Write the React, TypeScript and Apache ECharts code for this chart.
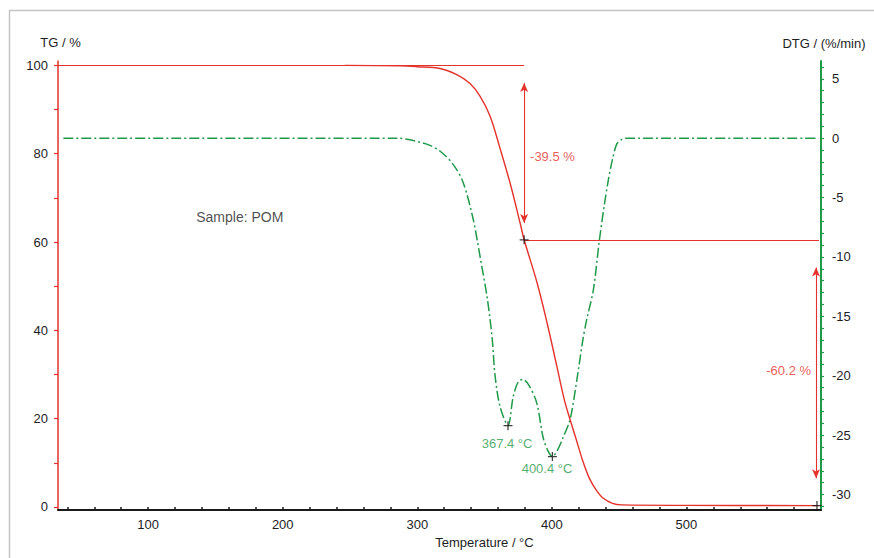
import React, { useEffect, useRef } from "react";
import * as echarts from "echarts";

// ---- data ----
const tgTemp = [246, 287, 300, 316.9, 329.3, 339.2, 346.7, 354.1, 361.5, 369, 376.4, 379.4, 388.8, 396.2, 403.6, 409, 413, 418, 423, 428, 433, 438, 445, 452, 500, 598];
const tgValues = [100, 99.9, 99.7, 99.3, 97.9, 95.9, 93.0, 88.5, 81.2, 73.3, 64.3, 60.5, 51.0, 42.0, 32.0, 24.6, 20.3, 15.4, 10.4, 6.4, 3.8, 2.0, 0.8, 0.45, 0.35, 0.3];

const dtgTemp = [37, 285, 307, 317, 326.6, 334, 341.5, 346.7, 351.9, 355.6, 357.8, 361.5, 367.4, 371.2, 375, 378.4, 383, 388.8, 393.5, 397, 400.4, 404, 408.3, 413.5, 418.5, 423, 426, 430.8, 435.3, 439, 442, 445, 448.2, 452, 455, 598];
const dtgValues = [0, 0, -0.5, -1.1, -2.2, -3.7, -6.8, -10, -13.4, -16.8, -20, -22.6, -24.2, -21.8, -20.5, -20.3, -20.8, -22.3, -25.2, -26.3, -26.8, -26.3, -25.2, -23.7, -20.4, -17.0, -15.2, -12.8, -8.6, -5.6, -3.5, -1.8, -0.5, -0.1, 0, 0];

const xLabels = [100, 200, 300, 400, 500];
const xTicks = [40, 60, 80, 100, 120, 140, 160, 180, 200, 220, 240, 260, 280, 300, 320, 340, 360, 380, 400, 420, 440, 460, 480, 500, 520, 540, 560, 580];
const tgLabels = [0, 20, 40, 60, 80, 100];
const tgTicks = [0, 10, 20, 30, 40, 50, 60, 70, 80, 90, 100];
const dtgLabels = [5, 0, -5, -10, -15, -20, -25, -30];
const dtgTicks = [6, 5, 4, 3, 2, 1, 0, -1, -2, -3, -4, -5, -6, -7, -8, -9, -10, -11, -12, -13, -14, -15, -16, -17, -18, -19, -20, -21, -22, -23, -24, -25, -26, -27, -28, -29, -30, -31];

// step evaluation (TG)
const stepTemp = 379.4;
const stepLevel = 60.5;
const endTemp = 597;
const residue = 0.3;
const tgMarkers = [[stepTemp, stepLevel], [endTemp, residue]];
const dtgPeakTemp = [367.4, 400.4];
const dtgPeakValue = [-24.2, -26.8];

const RED = "#e5322b";
const GREEN = "#1f9a48";
const TEXT = "#1e1e1e";
const FONT = "'Liberation Sans', Arial, sans-serif";

const zip = (a: number[], b: number[]) => a.map((v, i) => [v, b[i]]);
const CROSS = "path://M0,4.3H10V5.7H0ZM4.3,0H5.7V10H4.3Z";

export default function App() {
  const ref = useRef<HTMLDivElement>(null);
  useEffect(() => {
    if (!ref.current) return;
    const chart = echarts.init(ref.current, null, { renderer: "svg" });
    chart.setOption({
      animation: false,
      textStyle: { fontFamily: FONT },
      graphic: [
        {
          type: "rect",
          z: -10,
          shape: { x: 9.5, y: 10.5, width: 900, height: 600 },
          style: { fill: "none", stroke: "#c4c4c4", lineWidth: 1.5 },
        },
      ],
      grid: { left: 58, right: 53, top: 61, bottom: 48 },
      xAxis: {
        type: "value",
        min: 33,
        max: 600,
        name: "Temperature / °C",
        nameLocation: "middle",
        nameGap: 24,
        nameTextStyle: { color: TEXT, fontSize: 13, fontFamily: FONT, padding: [0, 0, 0, 90] },
        axisLine: { show: true, onZero: false, lineStyle: { color: "#1a1a1a", width: 2 } },
        axisTick: { show: true, inside: true, length: 3, customValues: xTicks, lineStyle: { color: "#1a1a1a", width: 1.5 } },
        axisLabel: { customValues: xLabels, color: TEXT, fontSize: 13, fontFamily: FONT, margin: 8 },
        splitLine: { show: false },
      },
      yAxis: [
        {
          type: "value",
          position: "left",
          min: -0.7,
          max: 101,
          name: "TG / %",
          nameLocation: "end",
          nameGap: 12,
          nameTextStyle: { color: TEXT, fontSize: 13, fontFamily: FONT, padding: [0, 0, 0, 5] },
          axisLine: { show: true, onZero: false, lineStyle: { color: RED, width: 1.5 } },
          axisTick: { show: true, inside: false, length: 4, customValues: tgTicks, lineStyle: { color: RED, width: 1.2 } },
          axisLabel: { customValues: tgLabels, color: TEXT, fontSize: 13, fontFamily: FONT, margin: 10 },
          splitLine: { show: false },
        },
        {
          type: "value",
          position: "right",
          min: -31.3,
          max: 6.5,
          name: "DTG / (%/min)",
          nameLocation: "end",
          nameGap: 11,
          nameTextStyle: { color: TEXT, fontSize: 13, fontFamily: FONT, padding: [0, 0, 0, 6] },
          axisLine: { show: true, onZero: false, lineStyle: { color: GREEN, width: 2 } },
          axisTick: { show: true, inside: false, length: 3, customValues: dtgTicks, lineStyle: { color: GREEN, width: 1.2 } },
          axisLabel: { customValues: dtgLabels, color: TEXT, fontSize: 13, fontFamily: FONT, margin: 11 },
          splitLine: { show: false },
        },
      ],
      series: [
        {
          name: "TG",
          type: "line",
          xAxisIndex: 0,
          yAxisIndex: 0,
          data: zip(tgTemp, tgValues),
          showSymbol: false,
          smooth: 0.35,
          lineStyle: { color: RED, width: 1.4 },
          z: 3,
          markLine: {
            silent: true,
            symbol: ["none", "none"],
            label: { show: false },
            lineStyle: { color: RED, width: 1.1, type: "solid" },
            data: [
              [{ coord: [33, 100] }, { coord: [stepTemp, 100] }],
              [{ coord: [stepTemp, stepLevel] }, { coord: [598.5, stepLevel] }],
              [
                { coord: [stepTemp, 96.0], symbol: "arrow", symbolSize: [6, 9] },
                { coord: [stepTemp, 64.3], symbol: "arrow", symbolSize: [6, 9] },
              ],
              [
                { coord: [596.3, 54.2], symbol: "arrow", symbolSize: [6, 9] },
                { coord: [596.3, 6.5], symbol: "arrow", symbolSize: [6, 9] },
              ],
            ],
          },
        },
        {
          name: "DTG",
          type: "line",
          xAxisIndex: 0,
          yAxisIndex: 1,
          data: zip(dtgTemp, dtgValues),
          showSymbol: false,
          smooth: 0.3,
          lineStyle: { color: GREEN, width: 1.5, type: [10, 3, 2, 3] },
          z: 2,
        },
        {
          name: "TG markers",
          type: "scatter",
          yAxisIndex: 0,
          symbol: CROSS,
          symbolSize: 9,
          itemStyle: { color: "#111" },
          data: tgMarkers,
          z: 5,
        },
        {
          name: "DTG peaks",
          type: "scatter",
          yAxisIndex: 1,
          symbol: CROSS,
          symbolSize: 9,
          itemStyle: { color: "#111" },
          data: zip(dtgPeakTemp, dtgPeakValue),
          z: 5,
        },
        {
          name: "TG notes",
          type: "scatter",
          yAxisIndex: 0,
          symbolSize: 0,
          silent: true,
          data: [
            { value: [383.8, 79.3], name: "-39.5 %", label: { align: "left", color: RED } },
            { value: [592.6, 31.0], name: "-60.2 %", label: { align: "right", color: RED } },
            { value: [135.7, 65.7], name: "Sample: POM", label: { align: "left", color: TEXT, fontSize: 14 } },
          ],
          label: {
            show: true,
            position: [0, 0],
            verticalAlign: "middle",
            formatter: (p: any) => p.name,
            fontSize: 13,
            fontFamily: FONT,
          },
        },
        {
          name: "DTG notes",
          type: "scatter",
          yAxisIndex: 1,
          symbolSize: 0,
          silent: true,
          data: [
            { value: [366.7, -25.7], name: dtgPeakTemp[0].toFixed(1) + " °C" },
            { value: [396.4, -27.8], name: dtgPeakTemp[1].toFixed(1) + " °C" },
          ],
          label: {
            show: true,
            position: [0, 0],
            align: "center",
            verticalAlign: "middle",
            formatter: (p: any) => p.name,
            color: GREEN,
            fontSize: 13,
            fontFamily: FONT,
          },
        },
      ],
    });
    return () => chart.dispose();
  }, []);
  return (
    <div
      ref={ref}
      style={{ position: "fixed", left: 0, top: 0, width: 874, height: 558, background: "#fff" }}
    />
  );
}
